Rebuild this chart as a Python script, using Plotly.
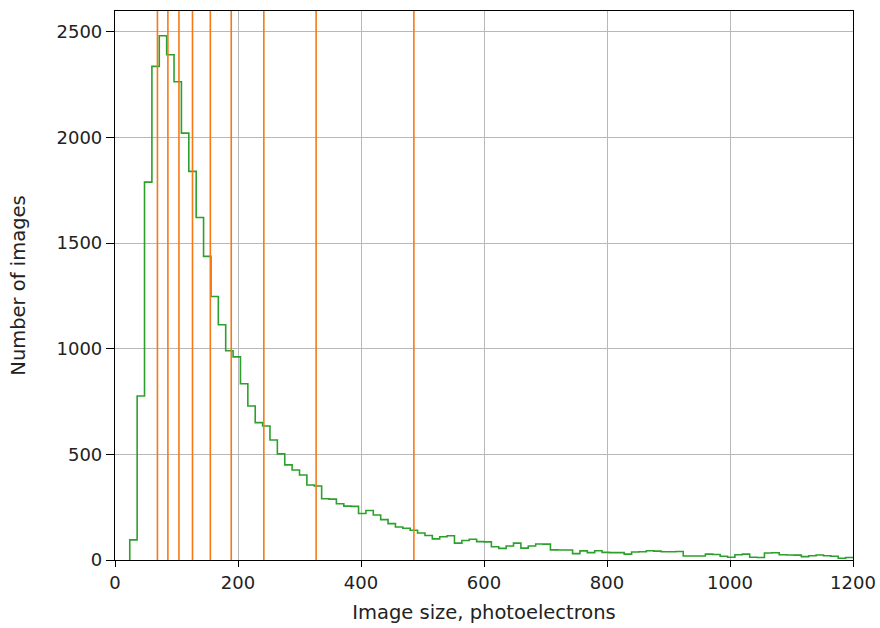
import plotly.graph_objects as go

# Histogram: bin width 12 photoelectrons, first non-empty bin starts at 24
bin_width = 12
first_bin = 24
counts = [
    95, 776, 1788, 2336, 2481, 2391, 2263, 2020, 1839, 1621,
    1437, 1247, 1113, 990, 961, 834, 729, 650, 634, 568,
    502, 450, 426, 402, 355, 350, 290, 288, 266, 255,
    254, 220, 234, 213, 191, 172, 156, 150, 141, 128,
    116, 100, 110, 115, 80, 92, 98, 87, 86, 63,
    55, 66, 80, 56, 66, 76, 75, 48, 47, 47,
    30, 43, 35, 44, 36, 35, 35, 28, 38, 39,
    44, 42, 39, 39, 40, 19, 19, 19, 28, 26,
    18, 13, 25, 28, 13, 12, 33, 34, 25, 24,
    23, 16, 20, 24, 20, 18, 8, 12,
]

# Vertical orange markers (quantile boundaries)
marker_positions = [69, 86, 104, 126, 155, 189, 242, 327, 486]

x_ticks = [0, 200, 400, 600, 800, 1000, 1200]
y_ticks = [0, 500, 1000, 1500, 2000, 2500]

edges = [first_bin + i * bin_width for i in range(len(counts) + 1)]
step_x = [edges[0]] + edges
step_y = [0] + counts + [counts[-1]]

font = dict(family="DejaVu Sans", size=18, color="#222222")
title_font = dict(family="DejaVu Sans", size=19.5, color="#222222")

fig = go.Figure()
fig.add_trace(go.Scatter(
    x=step_x, y=step_y, mode="lines",
    line=dict(color="#2ca02c", width=1.6, shape="hv"),
    showlegend=False, hoverinfo="skip",
))

for xv in marker_positions:
    fig.add_shape(type="line", xref="x", yref="paper", x0=xv, x1=xv, y0=0, y1=1,
                  line=dict(color="#f57a16", width=1.6), layer="above")

axis_common = dict(
    showline=True, linecolor="black", linewidth=1.2, mirror=True,
    ticks="outside", tickwidth=1.2, tickcolor="black",
    showgrid=True, gridcolor="#b8b8b8", gridwidth=1.2,
    zeroline=False, tickfont=font, automargin=False,
)

fig.update_layout(
    width=880, height=628,
    margin=dict(l=115, r=27, t=11, b=68),
    paper_bgcolor="white", plot_bgcolor="white",
    font=font,
    xaxis=dict(range=[0, 1200], tickvals=x_ticks, ticklen=6,
               title=dict(text="Image size, photoelectrons", font=title_font, standoff=13),
               **axis_common),
    yaxis=dict(range=[0, 2598], tickvals=y_ticks, ticklen=8,
               title=dict(text="Number of images", font=title_font, standoff=25),
               **axis_common),
)

fig.write_html("out.html")
